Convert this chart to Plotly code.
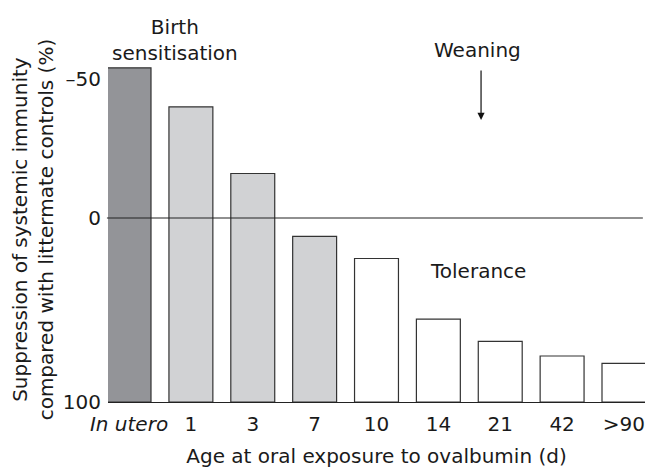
import plotly.graph_objects as go

# ---- data ----
categories = ["<i>In utero</i>", "1", "3", "7", "10", "14", "21", "42", ">90"]
suppression = [-54, -40, -16, 10, 22, 55, 67, 75, 79]   # % suppression (negative = sensitisation)
groups = ["utero", "sens", "sens", "sens", "tol", "tol", "tol", "tol", "tol"]
ytick_values = [-50, 0, 100]
ytick_labels = ["\u201350", "0", "100"]

# ---- styles ----
group_colors = {"utero": "#939498", "sens": "#d1d2d4", "tol": "#ffffff"}
FONT = "DejaVu Sans"
FS = 20

# the reference axis is drawn with a stretched negative half
NEG_STRETCH = 1.511
def to_axis(v):
    return v * NEG_STRETCH if v < 0 else v

base_val = 100
ys = [to_axis(v) - base_val for v in suppression]
colors = [group_colors[g] for g in groups]

fig = go.Figure()
fig.add_trace(go.Bar(
    x=categories, y=ys, base=[base_val] * len(ys),
    marker=dict(color=colors, line=dict(color="#333333", width=1.2)),
    width=0.71, showlegend=False, hoverinfo="skip",
))

fig.add_shape(type="line", xref="paper", yref="y", x0=-0.002, x1=0.996,
              y0=0, y1=0, line=dict(color="#222222", width=1.2))

fig.update_layout(
    width=647, height=468,
    margin=dict(l=108, r=2, t=50, b=66),
    plot_bgcolor="white", paper_bgcolor="white",
    font=dict(family=FONT, size=FS, color="#1a1a1a"),
    xaxis=dict(range=[-0.34, 8.34], showline=True, linecolor="#222222", linewidth=1.2,
               ticks="", showgrid=False, zeroline=False, ticklabelstandoff=4,
               title=dict(text="Age at oral exposure to ovalbumin (d)", standoff=14,
                          font=dict(size=FS))),
    yaxis=dict(range=[100, -91.3], showline=False, showgrid=False, zeroline=False,
               tickvals=[to_axis(v) for v in ytick_values], ticktext=ytick_labels,
               ticks="", ticklabelstandoff=6),
)

fig.add_annotation(xref="paper", yref="paper", x=-0.14, y=0.49,
                   text="Suppression of systemic immunity<br>compared with littermate controls (%)",
                   textangle=-90, showarrow=False, xanchor="center", yanchor="middle",
                   font=dict(size=FS))
fig.add_annotation(xref="x", yref="paper", x=0.75, y=1.027,
                   text="Birth<br>sensitisation", showarrow=False,
                   xanchor="center", yanchor="middle", font=dict(size=FS))
fig.add_annotation(xref="x", yref="paper", x=5.64, y=1.0,
                   text="Weaning", showarrow=False,
                   xanchor="center", yanchor="middle", font=dict(size=FS))
fig.add_annotation(xref="x", yref="y", x=5.69, y=-53.3,
                   text="", showarrow=True, ax=0, ay=-51, axref="pixel", ayref="pixel",
                   arrowhead=2, arrowsize=1.2, arrowwidth=1.2, arrowcolor="#111111")
fig.add_annotation(xref="x", yref="y", x=5.64, y=29,
                   text="Tolerance", showarrow=False,
                   xanchor="center", yanchor="middle", font=dict(size=FS))

fig.write_html("out.html", config={"displayModeBar": False},
               post_script="document.body.style.margin='0';")
